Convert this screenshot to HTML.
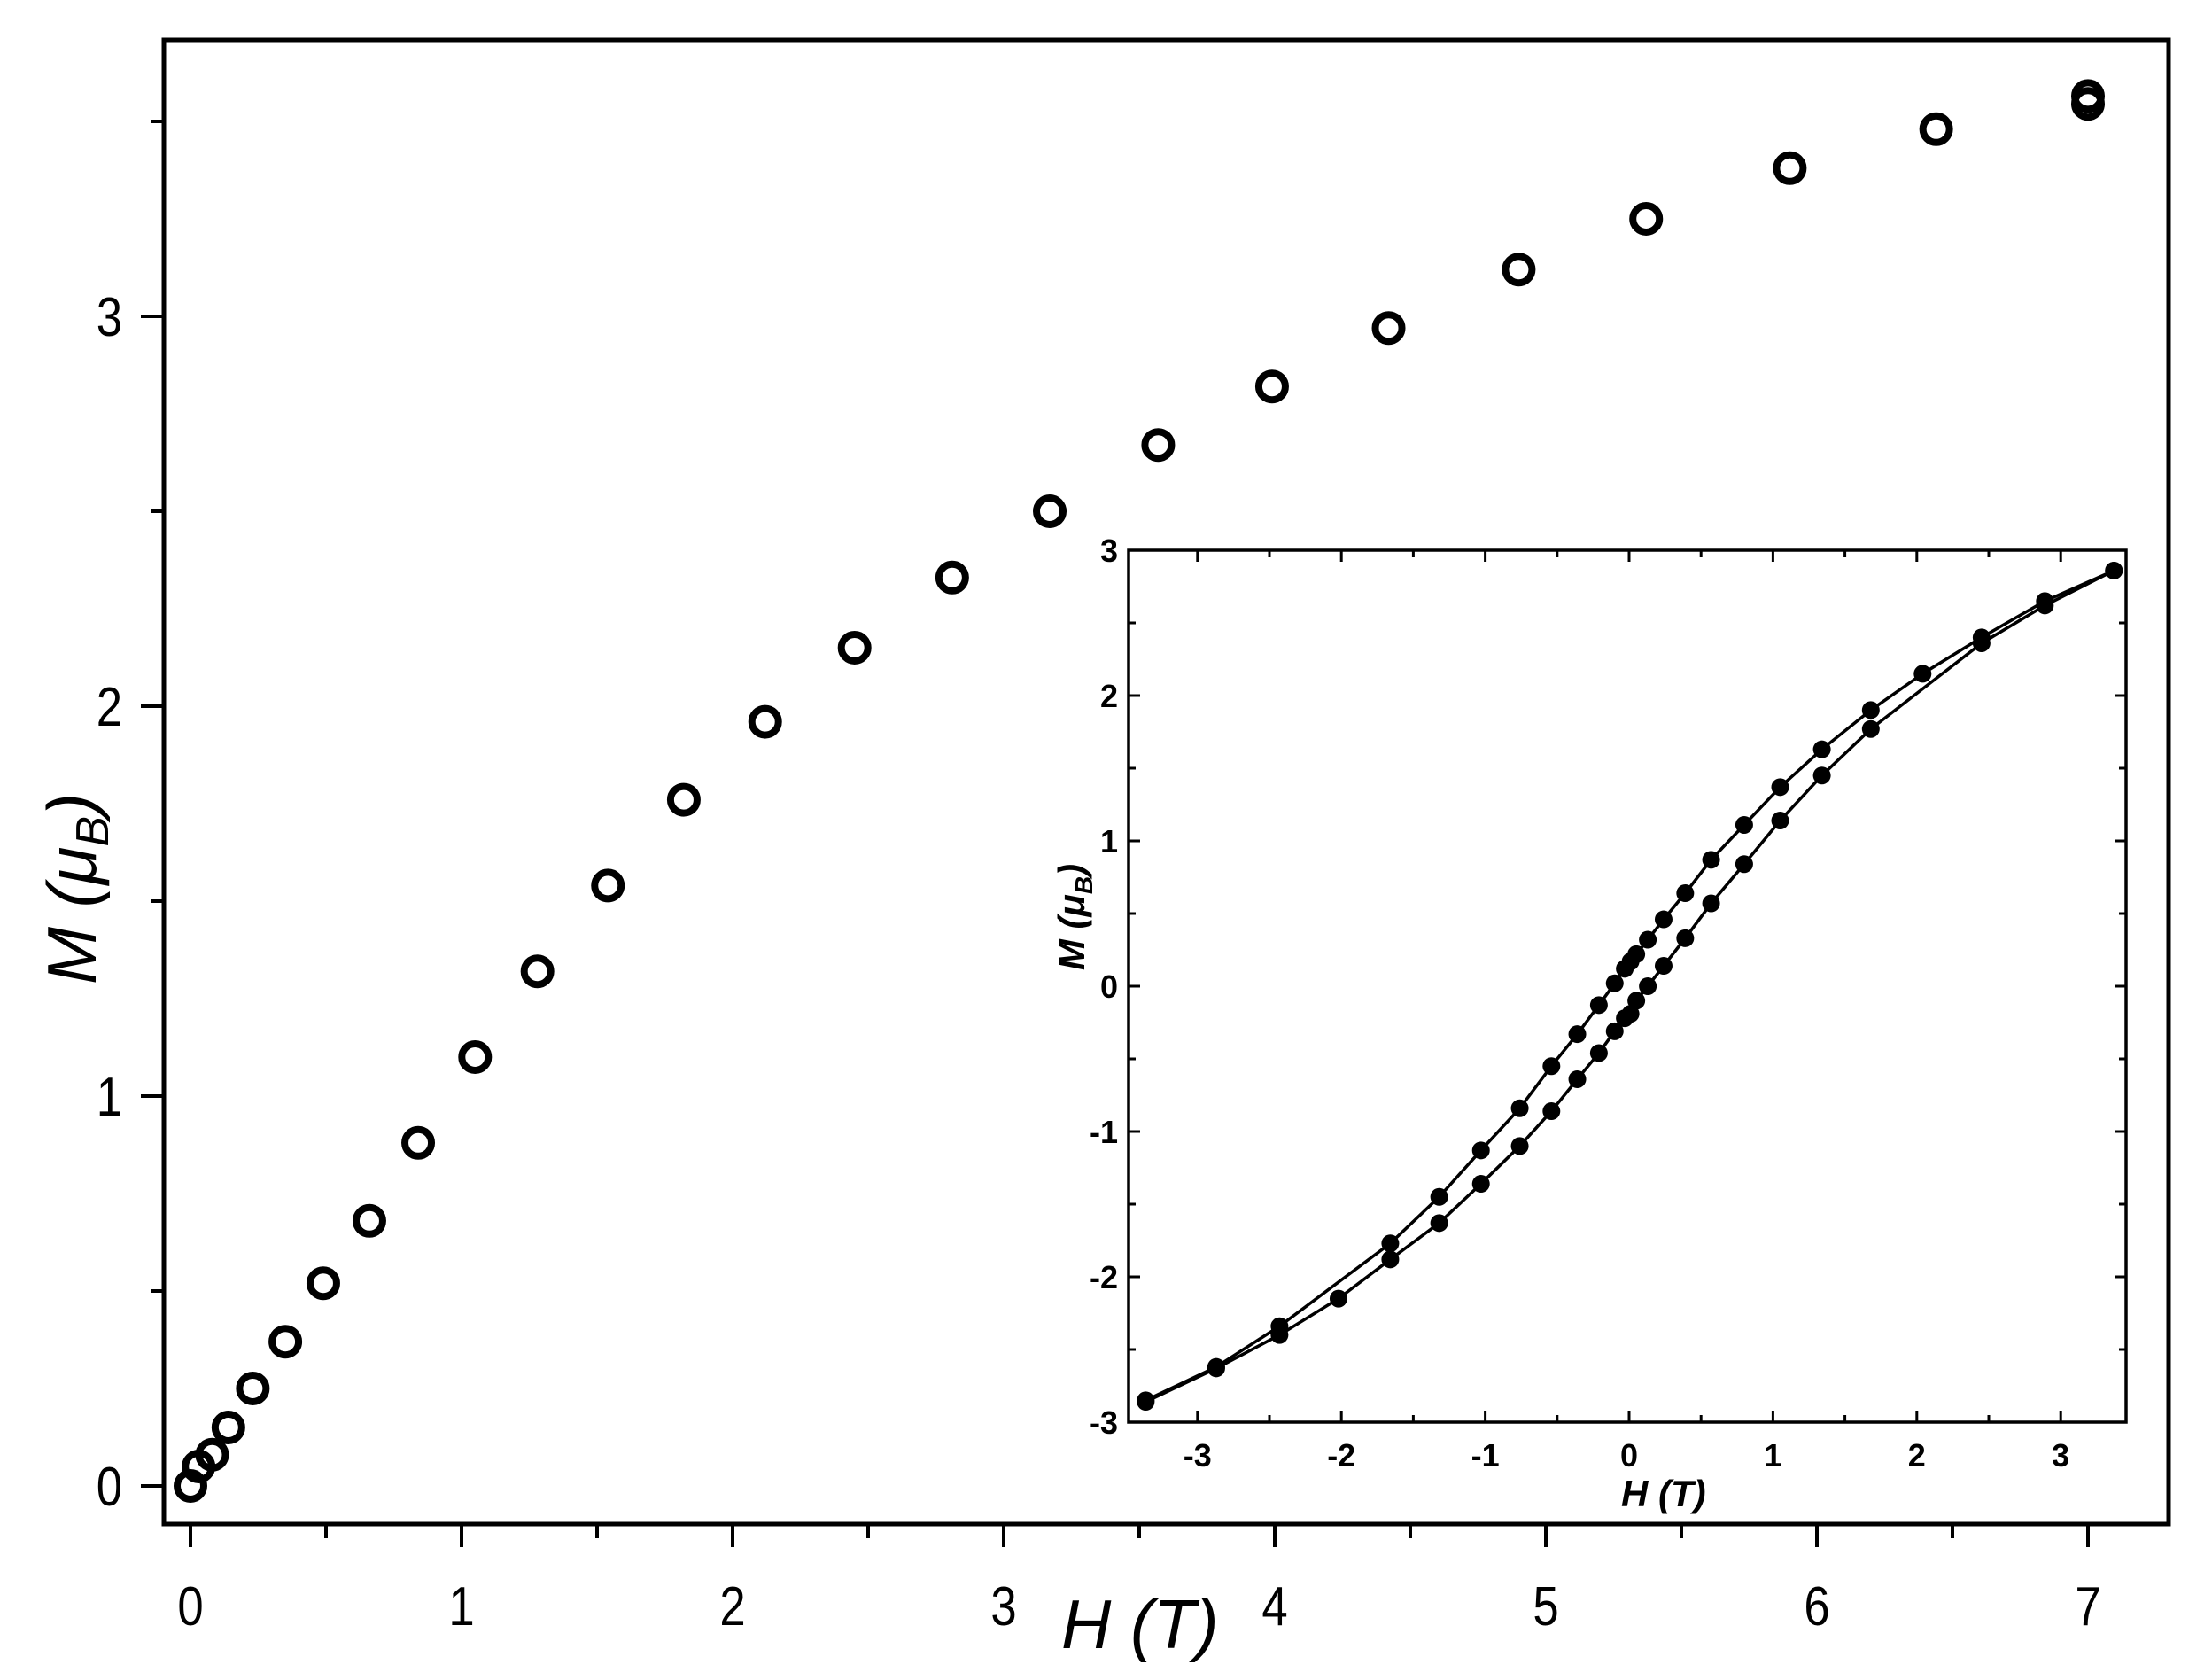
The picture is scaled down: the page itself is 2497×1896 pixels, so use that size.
<!DOCTYPE html>
<html><head><meta charset="utf-8"><style>
html,body{margin:0;padding:0;background:#fff}
svg{display:block}
text{font-family:"Liberation Sans",Arial,sans-serif;fill:#000}
</style></head><body>
<svg id="chart" width="2497" height="1896" viewBox="0 0 2497 1896" xmlns="http://www.w3.org/2000/svg">
<g id="main"></g>
<g id="inset"></g>
</svg>
<script>
// main chart data
const mainH = [0,0.03,0.08,0.14,0.23,0.35,0.49,0.66,0.84,1.05,1.28,1.54,1.82,2.12,2.45,2.81,3.17,3.57,3.99,4.42,4.90,5.37,5.90,6.44,7.00,7.00];
const mainM = [0,0.05,0.08,0.15,0.25,0.37,0.52,0.68,0.88,1.10,1.32,1.54,1.76,1.96,2.15,2.33,2.50,2.67,2.82,2.97,3.12,3.25,3.38,3.48,3.545,3.565];
const mainXTicks = [0,1,2,3,4,5,6,7];
const mainYTicks = [0,1,2,3];
// inset data
const upH = [-3.36,-2.87,-2.43,-1.66,-1.32,-1.03,-0.76,-0.54,-0.36,-0.21,-0.10,-0.03,0.01,0.05,0.13,0.24,0.39,0.57,0.80,1.05,1.34,1.68,2.04,2.45,2.89,3.37];
const upM = [-2.85,-2.62,-2.34,-1.77,-1.45,-1.13,-0.84,-0.55,-0.33,-0.13,0.02,0.12,0.17,0.22,0.32,0.46,0.64,0.87,1.11,1.37,1.63,1.90,2.15,2.40,2.65,2.86];
const loH = [-3.36,-2.87,-2.43,-2.02,-1.66,-1.32,-1.03,-0.76,-0.54,-0.36,-0.21,-0.10,-0.03,0.01,0.05,0.13,0.24,0.39,0.57,0.80,1.05,1.34,1.68,2.45,2.89,3.37];
const loM = [-2.86,-2.63,-2.40,-2.15,-1.88,-1.63,-1.36,-1.10,-0.86,-0.64,-0.46,-0.31,-0.22,-0.19,-0.10,0.00,0.14,0.33,0.57,0.84,1.14,1.45,1.77,2.36,2.62,2.86];
const insetXTicks = [-3,-2,-1,0,1,2,3];
const insetYTicks = [-3,-2,-1,0,1,2,3];

const NS = "http://www.w3.org/2000/svg";
function mk(tag, attrs, parent){const e=document.createElementNS(NS,tag);for(const k in attrs)e.setAttribute(k,attrs[k]);parent.appendChild(e);return e;}

// main axes
const mx = h => 215 + h*306;
const my = m => 1677 - m*440;
const main = document.getElementById('main');
const MF = {l:185,t:45,r:2448,b:1720};
let f = mk('rect',{x:MF.l,y:MF.t,width:MF.r-MF.l,height:MF.b-MF.t,fill:'none',stroke:'#000','stroke-width':5},main);


for(let v=0; v<=7.01; v+=0.5){
  const major = Math.abs(v-Math.round(v))<1e-6;
  const t = mk('line',{x1:mx(v),x2:mx(v),y1:MF.b,y2:MF.b+(major?26:16),stroke:'#000','stroke-width':4},main);
  
  
}
mainXTicks.forEach(v=>{
  const t = mk('text',{x:0,y:0,'font-size':62,'text-anchor':'middle',transform:`translate(${mx(v)},1834) scale(0.85,1)`},main);
  t.textContent = v;
  
  
});
for(let v=0; v<=3.51; v+=0.5){
  const major = Math.abs(v-Math.round(v))<1e-6;
  const t = mk('line',{x1:MF.l,x2:MF.l-(major?26:14),y1:my(v),y2:my(v),stroke:'#000','stroke-width':4},main);
  
  
}
mainYTicks.forEach(v=>{
  const t = mk('text',{x:0,y:0,'font-size':62,'text-anchor':'end',transform:`translate(138,${my(v)+22}) scale(0.85,1)`},main);
  t.textContent = v;
  
  
});
let xt = mk('text',{x:1198,y:1860,'font-size':78,'font-style':'italic'},main);
xt.textContent = 'H (T)';


let yt = mk('text',{x:0,y:0,'font-size':78,'font-style':'italic',transform:'translate(108,1003) rotate(-90)','text-anchor':'middle'},main);
yt.innerHTML = 'M (μ<tspan font-size="52" dy="14">B</tspan><tspan dy="-14">)</tspan>';


mainH.forEach((h,i)=>{
  const c = mk('circle',{cx:mx(h),cy:my(mainM[i]),r:15,fill:'none',stroke:'#000','stroke-width':8},main);
  
  
});

// inset
const IF = {l:1274,t:621,r:2400,b:1605};
const ix = h => 1839 + h*162.4;
const iy = m => 1113 - m*164;
const inset = document.getElementById('inset');
let bg = mk('rect',{x:IF.l,y:IF.t,width:IF.r-IF.l,height:IF.b-IF.t,fill:'#fff',stroke:'#000','stroke-width':3.5},inset);


for(let v=-3; v<=3.01; v+=0.5){
  const major = Math.abs(v-Math.round(v))<1e-6;
  const L = major?13:8;
  const a = mk('line',{x1:ix(v),x2:ix(v),y1:IF.b,y2:IF.b-L,stroke:'#000','stroke-width':3},inset);
  
  
  const b = mk('line',{x1:ix(v),x2:ix(v),y1:IF.t,y2:IF.t+L,stroke:'#000','stroke-width':3},inset);
  
  
  const c = mk('line',{x1:IF.l,x2:IF.l+L,y1:iy(v),y2:iy(v),stroke:'#000','stroke-width':3},inset);
  
  
  const d = mk('line',{x1:IF.r,x2:IF.r-L,y1:iy(v),y2:iy(v),stroke:'#000','stroke-width':3},inset);
  
  
}
insetXTicks.forEach(v=>{
  const t = mk('text',{x:ix(v),y:1655,'font-size':36,'font-weight':'bold','text-anchor':'middle'},inset);
  t.textContent = v;
  
  
});
insetYTicks.forEach(v=>{
  const t = mk('text',{x:1262,y:iy(v)+13,'font-size':36,'font-weight':'bold','text-anchor':'end'},inset);
  t.textContent = v;
  
  
});
let ixt = mk('text',{x:1830,y:1700,'font-size':42,'font-weight':'bold','font-style':'italic'},inset);
ixt.textContent = 'H (T)';


let iyt = mk('text',{x:0,y:0,'font-size':42,'font-weight':'bold','font-style':'italic',transform:'translate(1224,1035) rotate(-90)','text-anchor':'middle'},inset);
iyt.innerHTML = 'M (μ<tspan font-size="28" dy="9">B</tspan><tspan dy="-9">)</tspan>';


function branch(H,M,name){
  const p = mk('polyline',{points:H.map((h,i)=>ix(h)+','+iy(M[i])).join(' '),fill:'none',stroke:'#000','stroke-width':3.5},inset);
  
  
  H.forEach((h,i)=>{
    const c = mk('circle',{cx:ix(h),cy:iy(M[i]),r:10,fill:'#000'},inset);
    
    
  });
}
branch(upH,upM,'upper-branch');
branch(loH,loM,'lower-branch');
</script>
</body></html>
